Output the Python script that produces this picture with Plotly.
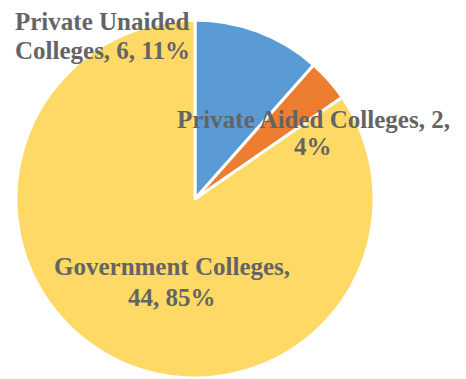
import plotly.graph_objects as go

categories = ["Private Unaided Colleges", "Private Aided Colleges", "Government Colleges"]
values = [6, 2, 44]
pct_labels = ["11%", "4%", "85%"]
colors = ["#5B9BD5", "#ED7D31", "#FFD966"]

# each label split into its two displayed lines
label_lines = [
    ["Private Unaided", f"Colleges, {values[0]}, {pct_labels[0]}"],
    [f"Private Aided Colleges, {values[1]},", pct_labels[1]],
    ["Government Colleges,", f"{values[2]}, {pct_labels[2]}"],
]
# (center x, first line center y, second line center y) in reference pixels
label_pos = [(102, 22, 50), (313, 119, 147), (172, 266, 297)]

W, H = 466, 379
OFF = 8  # page body margin
cx, cy, r = 195 - OFF, 199 - OFF, 179

fig = go.Figure(go.Pie(
    labels=categories,
    values=values,
    sort=False,
    direction="clockwise",
    rotation=0,
    marker=dict(colors=colors, line=dict(color="white", width=3)),
    textinfo="none",
    hoverinfo="label+value+percent",
    showlegend=False,
    domain=dict(x=[(cx - r) / W, (cx + r) / W],
                y=[max(0, 1 - (cy + r) / H), min(1, 1 - (cy - r) / H)]),
))

for lines, (x, y1, y2) in zip(label_lines, label_pos):
    for txt, y in zip(lines, (y1, y2)):
        fig.add_annotation(
            x=(x - OFF) / W, y=1 - (y - OFF) / H, xref="paper", yref="paper",
            text=f"<b>{txt}</b>", showarrow=False,
            font=dict(family="Liberation Serif, Times New Roman, serif", size=25, color="#646464"),
            align="center", xanchor="center", yanchor="middle",
        )

fig.update_layout(
    width=W, height=H,
    margin=dict(l=0, r=0, t=0, b=0),
    paper_bgcolor="white", plot_bgcolor="white",
)

fig.write_html("out.html")
